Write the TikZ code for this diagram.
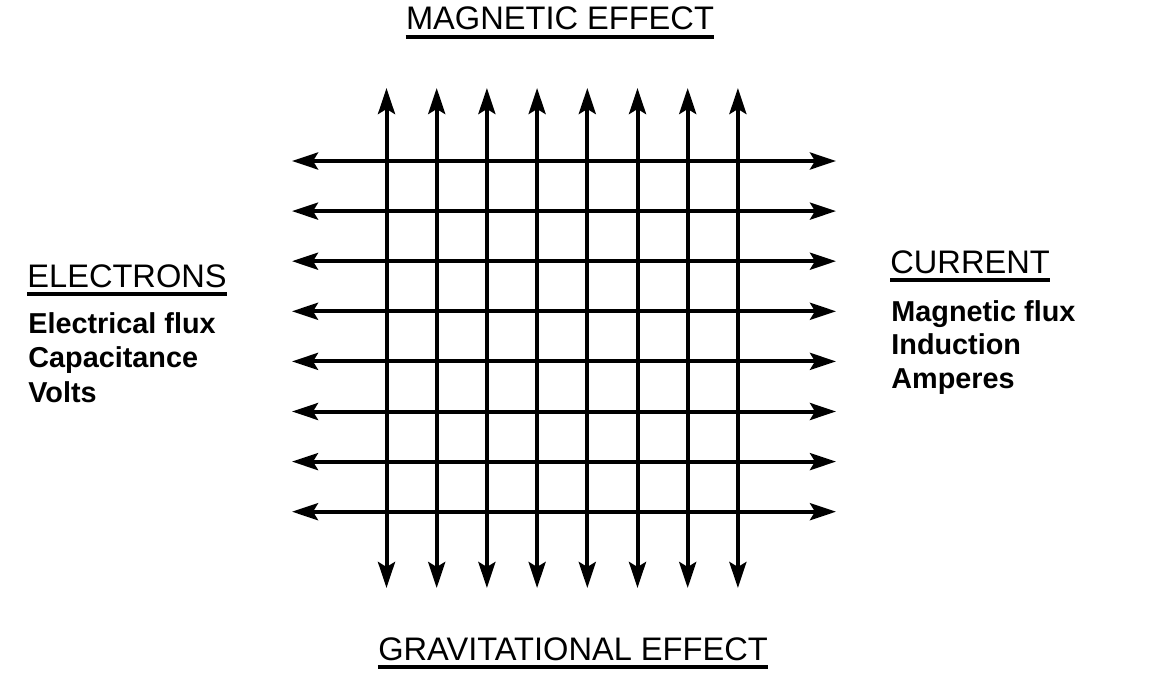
\documentclass[tikz,border=0pt]{standalone}
\usepackage{fontspec}
\setmainfont{Liberation Sans}
\usetikzlibrary{arrows.meta}

\tikzset{
  gridarrow/.style={line width=2pt,
    {Stealth[length=13pt, width=8.5pt, inset=2.5pt]}-{Stealth[length=13pt, width=8.5pt, inset=2.5pt]}},
  heading/.style={inner sep=0pt, font=\fontsize{16.3}{19}\selectfont},
  bodytext/.style={inner sep=0pt, anchor=base west, font=\fontsize{14.4}{17}\selectfont\bfseries},
  uline/.style={line width=1.75pt}
}

\begin{document}
\begin{tikzpicture}[x=0.5pt, y=-0.5pt]
  \useasboundingbox (0,0) rectangle (1152,696);
  % vertical arrows
  \foreach \i in {0,...,7} {
    \coordinate (top\i) at (386.5+50.2*\i,88);
    \coordinate (bot\i) at (386.5+50.2*\i,588);
    \draw[gridarrow] (top\i) -- (bot\i);
  }
  % horizontal arrows
  \foreach \j in {0,...,7} {
    \coordinate (lft\j) at (292,161+50.1*\j);
    \coordinate (rgt\j) at (836,161+50.1*\j);
    \draw[gridarrow] (lft\j) -- (rgt\j);
  }
  % headings
  \node[heading, anchor=base] (mag) at (560,30) {MAGNETIC EFFECT};
  \node[heading, anchor=base] (grav) at (573,660) {GRAVITATIONAL EFFECT};
  \node[heading, anchor=base west] (elec) at (27,287) {ELECTRONS};
  \node[heading, anchor=base west] (curr) at (890,273) {CURRENT};
  \foreach \n in {mag,grav,elec,curr}
    \draw[uline] ([yshift=-3.5pt]\n.base west) -- ([yshift=-3.5pt]\n.base east);
  % left list
  \foreach \t [count=\k] in {Electrical flux, Capacitance, Volts}
    \node[bodytext] (el\k) at (28,333+34.5*\k-34.5) {\t};
  % right list
  \foreach \t [count=\k] in {Magnetic flux, Induction, Amperes}
    \node[bodytext] (cu\k) at (891,321+33.5*\k-33.5) {\t};
\end{tikzpicture}
\end{document}
